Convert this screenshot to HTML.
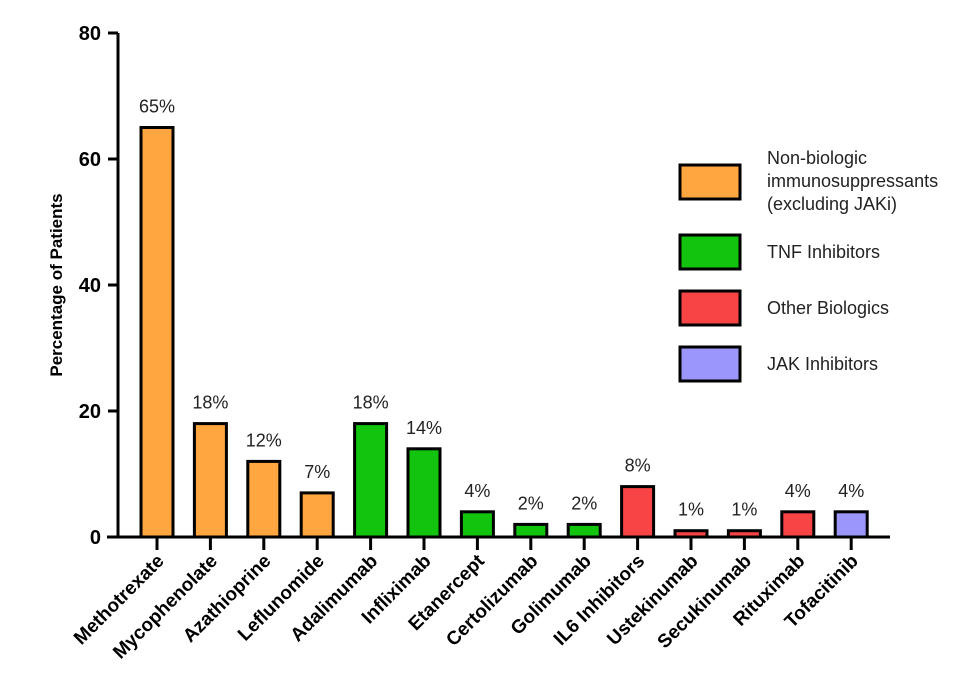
<!DOCTYPE html>
<html><head><meta charset="utf-8"><style>
body{margin:0;background:#fff}
svg text{font-family:"Liberation Sans",Arial,sans-serif}
</style></head><body>
<svg id="c" width="972" height="694" viewBox="0 0 972 694">
<g id="axes"></g><g id="bars"></g><g id="legend"></g>
</svg>
<script>
const categories=["Methotrexate","Mycophenolate","Azathioprine","Leflunomide","Adalimumab","Infliximab","Etanercept","Certolizumab","Golimumab","IL6 Inhibitors","Ustekinumab","Secukinumab","Rituximab","Tofacitinib"];
const values=[65,18,12,7,18,14,4,2,2,8,1,1,4,4];
const groups=[0,0,0,0,1,1,1,1,1,2,2,2,2,3];
const groupNames=["Non-biologic|immunosuppressants|(excluding JAKi)","TNF Inhibitors","Other Biologics","JAK Inhibitors"];
const groupColors=["#ffa640","#12c40e","#f84444","#9a96fb"];
const yTicks=[0,20,40,60,80];
const NS="http://www.w3.org/2000/svg";
function mk(p,t,a){const e=document.createElementNS(NS,t);for(const k in a)e.setAttribute(k,a[k]);p.appendChild(e);return e;}
const y=v=>537-v*(537-33)/80;
const x=i=>157+i*53.4;
const axes=document.getElementById('axes'),bars=document.getElementById('bars'),leg=document.getElementById('legend');
const ya=mk(axes,'line',{x1:118,y1:33,x2:118,y2:537,stroke:'#000','stroke-width':3});


const xa=mk(axes,'line',{x1:107,y1:537,x2:890,y2:537,stroke:'#000','stroke-width':3});


yTicks.forEach(t=>{
 mk(axes,'line',{x1:108,y1:y(t),x2:118,y2:y(t),stroke:'#000','stroke-width':3});
 const tx=mk(axes,'text',{x:101,y:y(t)+7,'text-anchor':'end','font-size':20,'font-weight':'bold'});
 tx.textContent=t;
 
 
});
const yt=mk(axes,'text',{x:0,y:0,'text-anchor':'middle','font-size':17,'font-weight':'bold',transform:'translate(62,285) rotate(-90)'});
yt.textContent='Percentage of Patients';


categories.forEach((c,i)=>{
 const cx=x(i),v=values[i];
 const r=mk(bars,'rect',{x:cx-16,y:y(v),width:32,height:537-y(v),fill:groupColors[groups[i]],stroke:'#000','stroke-width':3});
 
 
 mk(axes,'line',{x1:cx,y1:537,x2:cx,y2:550,stroke:'#000','stroke-width':3});
 const vl=mk(bars,'text',{x:cx,y:y(v)-15,'text-anchor':'middle','font-size':18,fill:'#222'});
 vl.textContent=v+'%';
 
 
 const cl=mk(axes,'text',{x:0,y:0,'text-anchor':'end','font-size':19,'font-weight':'bold',transform:`translate(${cx+8},${562}) rotate(-45)`});
 cl.textContent=c;
 
 
});
const ly=[182,252,308,364];
groupNames.forEach((g,i)=>{
 const r=mk(leg,'rect',{x:680,y:ly[i]-17,width:60,height:34,fill:groupColors[i],stroke:'#000','stroke-width':3});
 
 
 const lines=g.split('|');
 const t=mk(leg,'text',{x:767,y:ly[i]+6-(lines.length-1)*12,'font-size':18,fill:'#222'});
 
 
 lines.forEach((l,j)=>{const s=mk(t,'tspan',{x:767,dy:j?23:0});s.textContent=l;});
});
</script>
</body></html>
